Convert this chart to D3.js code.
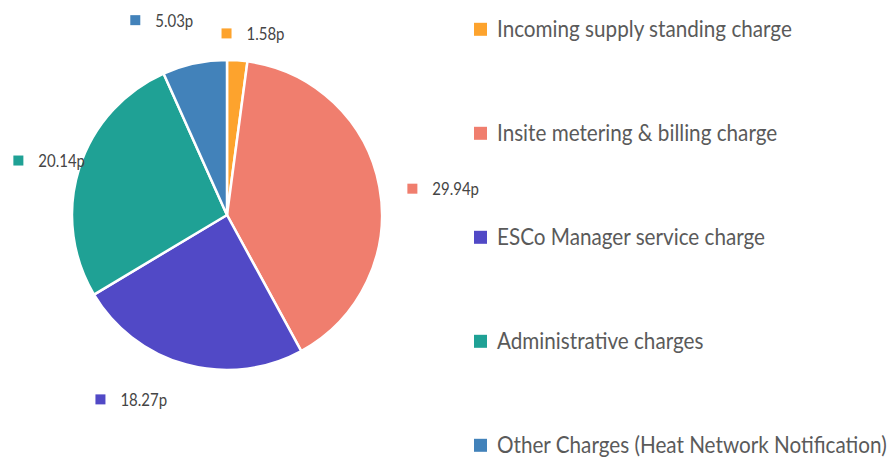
<!DOCTYPE html>
<html><head><meta charset="utf-8">
<script src="https://cdn.jsdelivr.net/npm/d3@7"></script>
<style>html,body{margin:0;padding:0;background:#fff;}</style>
</head><body>
<svg id="chart" width="890" height="458"></svg>
<script>
const categories = ["Incoming supply standing charge","Insite metering & billing charge","ESCo Manager service charge","Administrative charges","Other Charges (Heat Network Notification)"];
const values = [1.58, 29.94, 18.27, 20.14, 5.03];
const colors = ["#FDA32D","#F07E6E","#5149C6","#1FA195","#4282BA"];

const svg = d3.select("#chart");
const cx = 227, cy = 215, R = 155;
const font = "Lato, 'Noto Sans', sans-serif";

const pie = d3.pie().sort(null).value(d => d)(values);
const arc = d3.arc().innerRadius(0).outerRadius(R);

const g = svg.append("g").attr("transform", `translate(${cx},${cy})`);
g.selectAll("path").data(pie).join("path")
  .attr("d", arc)
  .attr("fill", (d,i) => colors[i])
  .attr("stroke", "#fff").attr("stroke-width", 2.5).attr("stroke-linejoin","round");

// data labels (outside end), small layout nudges
const labelScale = 0.88;
const nudge = [[12,6],[4,8],[-39,3],[28,2],[-21,-11]];
pie.forEach((d,i) => {
  const th = (d.startAngle + d.endAngle) / 2;
  const s = Math.sin(th), c = -Math.cos(th);
  const lg = svg.append("g");
  lg.append("rect").attr("x",0).attr("y",-5).attr("width",10).attr("height",10).attr("fill",colors[i]);
  const t = lg.append("text")
    .attr("transform", `translate(25,6.5) scale(${labelScale},1)`)
    .attr("font-family",font).attr("font-size",17).attr("fill","#454545")
    .text(values[i].toFixed(2) + "p");
  const w = 25 + t.node().getComputedTextLength()*labelScale;
  const h = 16, rr = R + 25;
  const bx = cx + rr*s + (w/2)*s + nudge[i][0];
  const by = cy + rr*c + (h/2)*c + nudge[i][1];
  lg.attr("transform", `translate(${bx - w/2},${by})`);
});

// legend
const step = 104;
const lgd = svg.append("g").attr("transform","translate(474,29.3)");
const texts = [];
categories.forEach((name,i) => {
  const row = lgd.append("g").attr("transform",`translate(0,${i*step})`);
  row.append("rect").attr("x",0).attr("y",-6.5).attr("width",13).attr("height",13).attr("fill",colors[i]);
  texts.push(row.append("text").attr("font-family",font).attr("font-size",23.5).attr("fill","#5a5a5a").text(name));
});
// condense the legend font so the longest entry fits the reference's width
const k = 390 / texts[texts.length-1].node().getComputedTextLength();
texts.forEach(t => t.attr("transform", `translate(23,7.5) scale(${k},1)`));
</script>
</body></html>
